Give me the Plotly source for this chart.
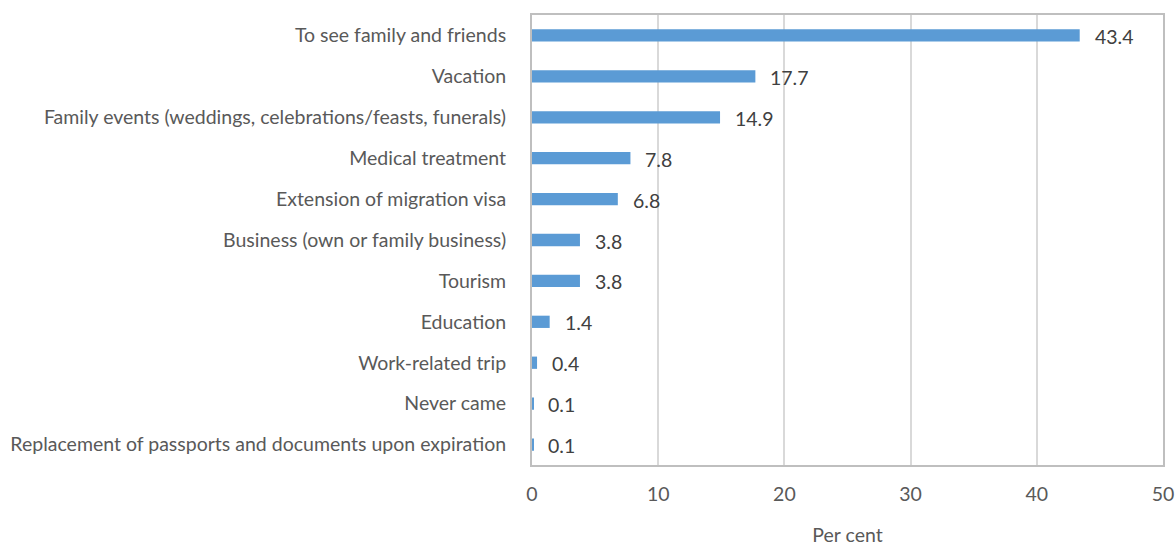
import plotly.graph_objects as go

# Reasons for return trips, share of respondents (per cent)
reasons = [
    "To see family and friends",
    "Vacation",
    "Family events (weddings, celebrations/feasts, funerals)",
    "Medical treatment",
    "Extension of migration visa",
    "Business (own or family business)",
    "Tourism",
    "Education",
    "Work-related trip",
    "Never came",
    "Replacement of passports and documents upon expiration",
]
shares = [43.4, 17.7, 14.9, 7.8, 6.8, 3.8, 3.8, 1.4, 0.4, 0.1, 0.1]
x_ticks = [0, 10, 20, 30, 40, 50]

FONT = "Lato"
SIZE = 19.5
BAR_COLOR = "#5b9bd5"

fig = go.Figure(
    go.Bar(
        x=shares,
        y=reasons,
        orientation="h",
        marker=dict(color=BAR_COLOR, line=dict(width=0)),
        width=0.3,
        hoverinfo="x+y",
    )
)

# Value labels to the right of each bar
for r, v in zip(reasons, shares):
    fig.add_annotation(
        x=v, y=r, text=f"{v:.1f}", showarrow=False,
        xanchor="left", xshift=13, yshift=-1,
        font=dict(family=FONT, size=SIZE, color="#404040"),
    )

fig.update_layout(
    width=1175, height=546,
    margin=dict(l=532, r=12, t=15, b=81),
    plot_bgcolor="white", paper_bgcolor="white",
    showlegend=False,
    font=dict(family=FONT, size=SIZE, color="#595959"),
    xaxis=dict(
        range=[0, 50], tickvals=x_ticks,
        automargin=False,
        showgrid=True, gridcolor="#d9d9d9", gridwidth=2,
        zeroline=False,
        showline=True, linecolor="#bfbfbf", linewidth=2, mirror=True,
        ticks="", ticklabelstandoff=11,
        tickfont=dict(family=FONT, size=SIZE, color="#595959"),
        title=dict(text="Per cent", standoff=48,
                   font=dict(family=FONT, size=SIZE, color="#595959")),
    ),
    yaxis=dict(
        categoryorder="array", categoryarray=list(reversed(reasons)),
        range=[-0.5, len(reasons) - 0.5],
        automargin=False,
        showgrid=False, zeroline=False,
        showline=True, linecolor="#bfbfbf", linewidth=2, mirror=True,
        ticks="", ticklabelstandoff=20,
        tickfont=dict(family=FONT, size=SIZE, color="#595959"),
    ),
)

fig.write_html("out.html")
